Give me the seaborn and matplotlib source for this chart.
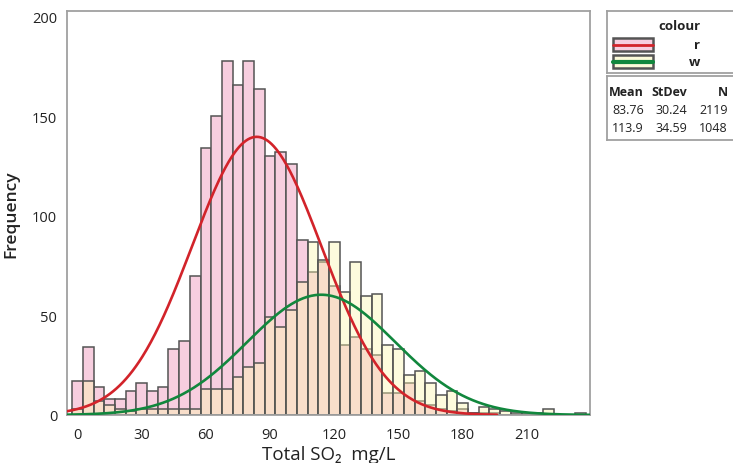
import numpy as np
import pandas as pd
import matplotlib
matplotlib.use("Agg")
import matplotlib.pyplot as plt
from matplotlib.patches import Rectangle
import seaborn as sns

# bin centres (width 5) and counts per colour
bin_width = 5
bin_centers = np.arange(0, 240, bin_width)
red_counts = [17, 34, 14, 8, 8, 12, 16, 12, 14, 33, 37, 70,
              134, 150, 178, 166, 178, 164, 130, 132, 126, 88, 72, 77,
              65, 35, 39, 33, 30, 11, 11, 16, 7, 5, 3, 2,
              3, 1, 1, 1, 0, 0, 0, 0, 0, 0, 0, 0]
white_counts = [3, 17, 7, 5, 3, 2, 3, 3, 3, 3, 3, 3,
                13, 13, 13, 19, 24, 26, 49, 44, 53, 67, 87, 78,
                87, 62, 77, 60, 61, 35, 33, 20, 22, 16, 10, 12,
                6, 1, 4, 3, 2, 1, 1, 1, 3, 0, 0, 1]

# fitted normal parameters shown in the stats box
groups = ["r", "w"]
means = [83.76, 113.9]
stdevs = [30.24, 34.59]
counts_n = [2119, 1048]
curve_ranges = [(-5, 196), (-5, 240)]

x_ticks = [0, 30, 60, 90, 120, 150, 180, 210]
y_ticks = [0, 50, 100, 150, 200]

pink = "#F7CEDF"
yellow = (0.99, 0.97, 0.67, 0.40)
edge = "#545454"
red = "#D2232A"
green = "#11873D"
frame = "#A0A0A0"
txt = "#222222"

sns.set_style("white")
plt.rcParams["font.family"] = ["Open Sans", "DejaVu Sans"]

W, H = 733, 464
fig = plt.figure(figsize=(W / 100, H / 100), dpi=100)
ax = fig.add_axes([67 / W, 1 - 416 / H, (590 - 67) / W, (416 - 12) / H])

edges = list(np.arange(-2.5, 240, bin_width))
df_r = pd.DataFrame({"so2": bin_centers, "count": red_counts})
df_w = pd.DataFrame({"so2": bin_centers, "count": white_counts})

n0 = len(ax.patches)
sns.histplot(data=df_r, x="so2", weights="count", bins=edges, ax=ax)
for p in ax.patches[n0:]:
    p.set_alpha(None)
    p.set_facecolor(pink)
    p.set_edgecolor(edge)
    p.set_linewidth(1.1)

n1 = len(ax.patches)
sns.histplot(data=df_w, x="so2", weights="count", bins=edges, ax=ax)
for p in ax.patches[n1:]:
    p.set_alpha(None)
    p.set_facecolor(yellow)
    p.set_edgecolor(edge)
    p.set_linewidth(1.1)

# fitted normal curves
for m, s, n, (lo, hi), c in zip(means, stdevs, counts_n, curve_ranges, [red, green]):
    xs = np.linspace(lo, hi, 400)
    ys = n * bin_width * np.exp(-0.5 * ((xs - m) / s) ** 2) / (s * np.sqrt(2 * np.pi))
    sns.lineplot(x=xs, y=ys, ax=ax, color=c, linewidth=1.9, zorder=5)

ax.set_xlim(-4.9, 239.5)
ax.set_ylim(0, 203)
ax.set_xticks(x_ticks)
ax.set_yticks(y_ticks)
ax.tick_params(direction="out", length=4, width=1.2, color=frame,
               labelsize=10.5, labelcolor=txt, pad=3)
ax.tick_params(axis="x", pad=5)
for sp in ax.spines.values():
    sp.set_visible(True)
    sp.set_color(frame)
    sp.set_linewidth(1.3)
ax.set_xlabel("Total SO₂  mg/L", fontsize=13.5, color=txt, labelpad=2)
ax.set_ylabel("Frequency", fontsize=12.5, fontweight="semibold", color=txt, labelpad=9)

# legend box (colour swatches)
lg = fig.add_axes([607 / W, 1 - 74 / H, 130 / W, 62 / H])
lg.set_xlim(0, 130)
lg.set_ylim(62, 0)
lg.set_xticks([])
lg.set_yticks([])
for sp in lg.spines.values():
    sp.set_color(frame)
    sp.set_linewidth(1.3)
lg.text(72, 14, "colour", ha="center", va="center", fontsize=9.5,
        fontweight="bold", color=txt)
swatches = [(pink, red, 2.0), ((0.99, 0.98, 0.85), green, 3.0)]
for i, (fc, lc, lw) in enumerate(swatches):
    y0 = 27 + i * 17
    lg.add_patch(Rectangle((6, y0), 40, 13, facecolor=fc, edgecolor=edge, linewidth=1.8))
    lg.plot([6, 46], [y0 + 6.5, y0 + 6.5], color=lc, linewidth=lw)
    lg.text(93, y0 + 6.5, groups[i], ha="right", va="center", fontsize=9.5,
            fontweight="bold", color=txt)

# stats box
st = fig.add_axes([607 / W, 1 - 141 / H, 130 / W, 64 / H])
st.set_xlim(0, 130)
st.set_ylim(64, 0)
st.set_xticks([])
st.set_yticks([])
for sp in st.spines.values():
    sp.set_color(frame)
    sp.set_linewidth(1.3)
cols_x = [37, 80, 121]
for hx, h in zip(cols_x, ["Mean", "StDev", "N"]):
    st.text(hx, 16, h, ha="right", va="center", fontsize=9,
            fontweight="bold", color=txt)
for i in range(2):
    vals = [f"{means[i]:g}", f"{stdevs[i]:g}", f"{counts_n[i]}"]
    for vx, v in zip(cols_x, vals):
        st.text(vx, 34 + i * 17, v, ha="right", va="center", fontsize=9, color=txt)

fig.savefig("out.png", dpi=100)
